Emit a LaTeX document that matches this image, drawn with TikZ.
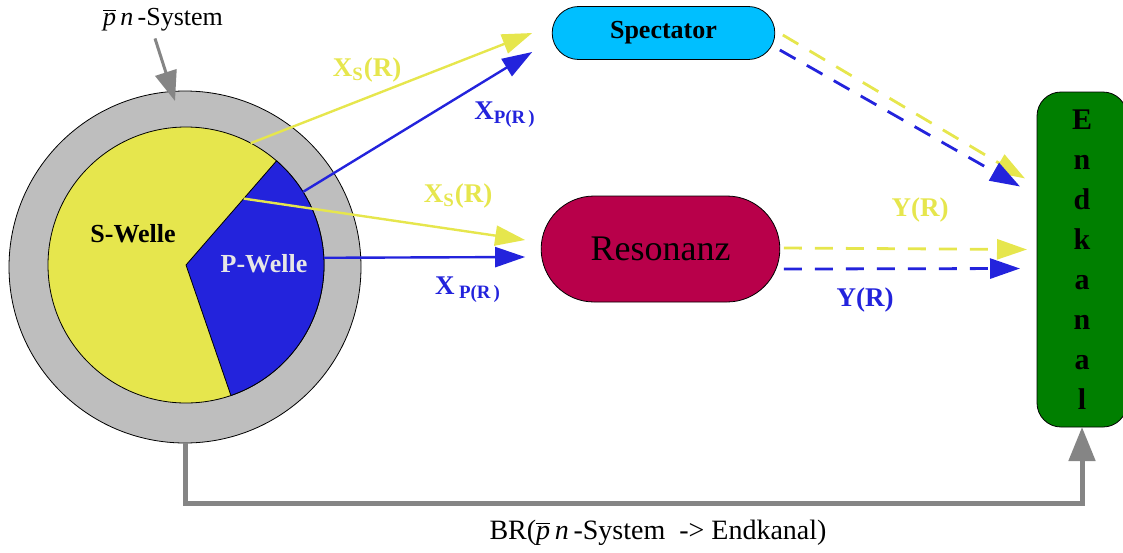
\documentclass[tikz,border=0pt]{standalone}
\usepackage{fontspec}
\setmainfont{Liberation Serif}
\usetikzlibrary{arrows.meta,positioning,calc,shapes.misc}
\definecolor{wyellow}{HTML}{E6E64D}
\definecolor{wblue}{HTML}{2323DC}
\definecolor{ring}{HTML}{BEBEBE}
\definecolor{pointer}{HTML}{858585}
\definecolor{pwtext}{HTML}{E6E6E6}
\definecolor{spec}{HTML}{00BFFF}
\definecolor{reso}{HTML}{B8004A}
\definecolor{chan}{HTML}{007F00}
\tikzset{
 flow/.style={line width=1.2pt,-{Triangle[length=15pt,width=10pt]}},
 later/.style={flow,line width=1.4pt,dash pattern=on 9pt off 6.5pt},
 lab/.style={font=\fontsize{13.5}{16}\selectfont\bfseries},
 wave/.style={circle,draw,inner sep=0pt,outer sep=0pt},
 pill/.style={rounded rectangle,draw,outer sep=0pt}
}

\begin{document}
\begin{tikzpicture}[x=0.5pt,y=-0.5pt,font=\fontsize{13}{15}\selectfont]
\useasboundingbox (0,0) rectangle (1123,552);
\node[wave,fill=ring,minimum size=176pt] (sys) at (185,267) {};
\node[wave,fill=wyellow,minimum size=138pt] (wave) at (186,265) {};
\filldraw[fill=wblue] (wave.center) -- (wave.49) arc[start angle=49,end angle=-71,radius=69pt] -- cycle;
\coordinate (cut) at ($(wave.center)+(49:44pt)$);
\node[font=\fontsize{13}{15}\selectfont\bfseries] (sw) at (133,234) {S-Welle};
\node[font=\fontsize{13}{15}\selectfont\bfseries,text=pwtext] (pw) at (264,264) {P-Welle};

\node[pill,fill=spec,minimum width=118pt,minimum height=26.5pt,font=\fontsize{13}{15}\selectfont\bfseries] (spect) at (663.5,33) {Spectator};
\node[pill,fill=reso,minimum width=126pt,minimum height=53pt,font=\fontsize{18}{20}\selectfont] (res) at (660.5,249) {Resonanz};
\node[draw,rounded corners=12pt,fill=chan,outer sep=0pt,minimum width=45pt,minimum height=167.5pt,align=center,font=\fontsize{15}{20}\selectfont\bfseries] (end) at (1082,259.5) {E\\n\\d\\k\\a\\n\\a\\l};

\draw[flow,wyellow] (wave.62) -- ([xshift=-10pt]spect.west);
\draw[flow,wblue] (wave.32) -- ([shift={(-10pt,-9.5pt)}]spect.west);
\draw[flow,wyellow] (cut) -- ([shift={(-8pt,4.5pt)}]res.west);
\draw[flow,wblue] (wave.3) -- ([shift={(-8pt,-4pt)}]res.west);

\draw[later,wyellow] ([shift={(4pt,-1pt)}]spect.east) -- ([shift={(-6pt,40.5pt)}]end.west);
\draw[later,wblue] ([shift={(2.5pt,-8.5pt)}]spect.east) -- ([shift={(-8.5pt,36.5pt)}]end.west);
\draw[later,wyellow] ([shift={(2pt,0.5pt)}]res.east) -- ([shift={(-5pt,5pt)}]end.west);
\draw[later,wblue] ([shift={(2pt,-10pt)}]res.east) -- ([shift={(-8.5pt,-4.5pt)}]end.west);

\node[lab,wyellow] (xs1) at (367,70) {X\textsubscript{S}(R)};
\node[lab,wblue] (xp1) at (505,115) {X\textsubscript{P(R\,)}};
\node[lab,wyellow] (xs2) at (458,196) {X\textsubscript{S}(R)};
\node[lab,wblue] (xp2) at (468,290) {X\,\textsubscript{P(R\,)}};
\node[lab,wyellow] (y1) at (920,210) {Y(R)};
\node[lab,wblue] (y2) at (865,300) {Y(R)};

\node (pn) at (163,20) {$\overline{\textit{p}}$\,\textit{n}\,-System};
\draw[pointer,line width=1.5pt,-{Triangle[length=15pt,width=11pt]}] ([xshift=-4pt]pn.south) -- ([shift={(-5pt,-5pt)}]sys.north);
\draw[pointer,line width=2.5pt,-{Triangle[length=17pt,width=13pt]}] (sys.south) -- ++(0,60) -| (end.south);
\node[font=\fontsize{14}{16}\selectfont] (br) at (658,533) {BR($\overline{\textit{p}}$\,\textit{n}\,-System\ \ -> Endkanal)};
\end{tikzpicture}
\end{document}
